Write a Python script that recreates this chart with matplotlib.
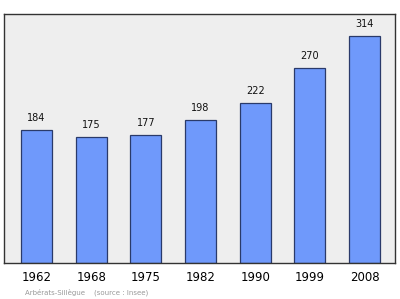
import matplotlib
matplotlib.use("Agg")
import matplotlib.pyplot as plt

years = ["1962", "1968", "1975", "1982", "1990", "1999", "2008"]
population = [184, 175, 177, 198, 222, 270, 314]

fig = plt.figure(figsize=(4.0, 2.99), dpi=100)
ax = fig.add_axes([0.01, 0.1204, 0.9775, 0.8326])
ax.set_facecolor("#eeeeee")

x = list(range(len(years)))
ax.bar(x, population, width=0.567, color="#6f99fb", edgecolor="#2a3a6a", linewidth=0.9, zorder=2)

for xi, v in zip(x, population):
    ax.annotate(str(v), (xi, v), xytext=(0, 5), textcoords="offset points",
                ha="center", va="bottom", fontsize=7, color="#111111")

ax.set_xlim(-0.594, 6.558)
ax.set_ylim(0, 344.5)
ax.set_yticks([])
ax.set_xticks(x)
ax.set_xticklabels(years, fontsize=8.5)
ax.tick_params(axis="x", length=0, pad=6)

for s in ax.spines.values():
    s.set_color("#333333")
    s.set_linewidth(1.0)

fig.text(0.0625, 0.014, "Arbérats-Sillègue    (source : Insee)", fontsize=5, color="#999999")

fig.savefig("out.png", dpi=100)
